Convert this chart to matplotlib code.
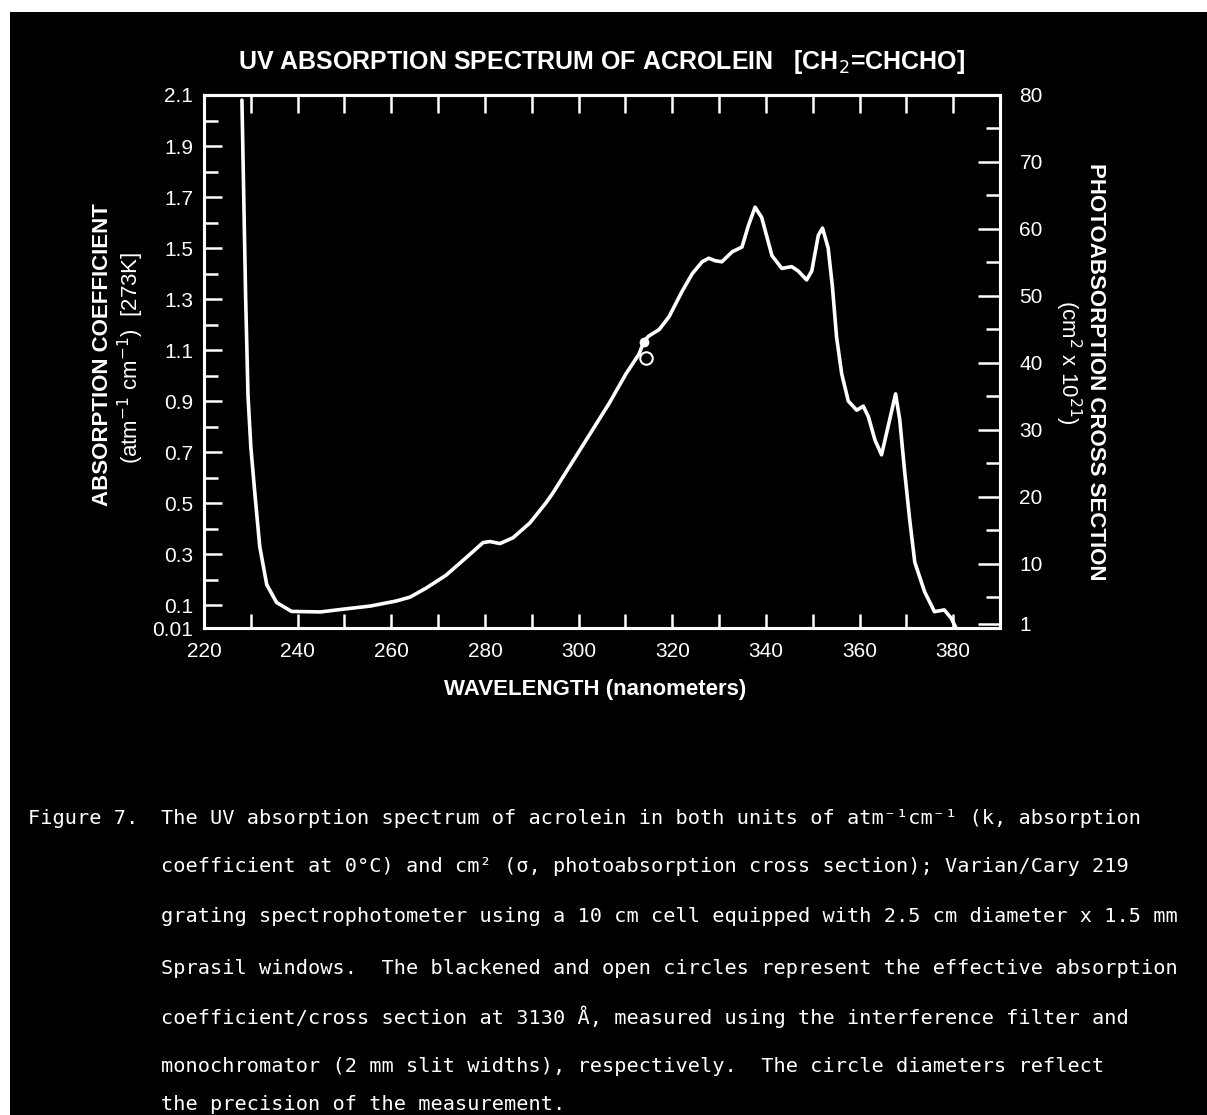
import matplotlib
matplotlib.use("Agg")
import matplotlib.pyplot as plt
from matplotlib.patches import Rectangle
from matplotlib.ticker import FixedLocator, MultipleLocator

# curve: wavelength (nm) vs absorption coefficient k (atm-1 cm-1, 273K)
wavelength_nm = [228.1, 228.5, 228.9, 229.4, 230.0, 230.9, 231.9, 233.4, 235.5, 238.7,
                 244.9, 249.8, 255.5, 261.1, 264.0, 267.4, 271.7, 276.0, 279.6, 281.1,
                 283.2, 286.0, 289.6, 293.0, 294.5, 298.3, 302.3, 306.5, 310.1, 312.9,
                 314.0, 315.0, 317.2, 319.3, 322.1, 324.3, 326.4, 327.8, 329.2, 330.6,
                 332.8, 334.9, 336.3, 337.7, 339.1, 341.3, 343.4, 345.5, 346.9, 348.7,
                 349.8, 351.2, 352.1, 353.3, 354.2, 355.1, 356.2, 357.6, 359.4, 360.8,
                 361.9, 363.3, 364.7, 366.1, 367.7, 368.6, 369.6, 370.7, 371.8, 373.9,
                 376.0, 378.1, 379.6, 380.6]
absorption_k = [2.08, 1.69, 1.30, 0.92, 0.72, 0.53, 0.33, 0.18, 0.11, 0.075,
                0.073, 0.084, 0.096, 0.116, 0.131, 0.166, 0.217, 0.286, 0.345, 0.349,
                0.341, 0.364, 0.422, 0.50, 0.539, 0.65, 0.767, 0.89, 1.006, 1.084,
                1.136, 1.155, 1.18, 1.23, 1.33, 1.40, 1.446, 1.46, 1.45, 1.446,
                1.485, 1.504, 1.59, 1.66, 1.62, 1.47, 1.42, 1.427, 1.41, 1.375,
                1.41, 1.55, 1.578, 1.50, 1.35, 1.15, 1.006, 0.90, 0.864, 0.88,
                0.838, 0.747, 0.689, 0.80, 0.928, 0.825, 0.63, 0.437, 0.268, 0.152,
                0.074, 0.081, 0.048, 0.01]

# single-wavelength measurements at 313 nm
filled_pt = (313.9, 1.13)
open_pt = (314.3, 1.07)

left_ticks = [0.01, 0.1, 0.3, 0.5, 0.7, 0.9, 1.1, 1.3, 1.5, 1.7, 1.9, 2.1]
left_labels = ["0.01", "0.1", "0.3", "0.5", "0.7", "0.9", "1.1", "1.3", "1.5", "1.7", "1.9", "2.1"]
left_minor = [0.2, 0.4, 0.6, 0.8, 1.0, 1.2, 1.4, 1.6, 1.8, 2.0]
right_ticks = [1, 10, 20, 30, 40, 50, 60, 70, 80]
right_minor = [5, 15, 25, 35, 45, 55, 65, 75]
x_labels = [220, 240, 260, 280, 300, 320, 340, 360, 380]

caption_head = "Figure 7."
caption_lines = [
    "The UV absorption spectrum of acrolein in both units of atm\u207b\u00b9cm\u207b\u00b9 (k, absorption",
    "coefficient at 0\u00b0C) and cm\u00b2 (\u03c3, photoabsorption cross section); Varian/Cary 219",
    "grating spectrophotometer using a 10 cm cell equipped with 2.5 cm diameter x 1.5 mm",
    "Sprasil windows.  The blackened and open circles represent the effective absorption",
    "coefficient/cross section at 3130 \u00c5, measured using the interference filter and",
    "monochromator (2 mm slit widths), respectively.  The circle diameters reflect",
    "the precision of the measurement.",
]

W, H = 1207, 1115
fig = plt.figure(figsize=(W / 100, H / 100), dpi=100)
fig.patch.set_facecolor("white")
fig.add_artist(Rectangle((10 / W, 0), 1 - 10 / W, 1 - 12 / H, transform=fig.transFigure,
                         facecolor="black", edgecolor="none", zorder=-10))

lab_font = ["Liberation Sans", "DejaVu Sans"]
mono_font = ["DejaVu Sans Mono"]
fg = "white"

ax = fig.add_axes([204 / W, 1 - 628 / H, (1000 - 204) / W, (628 - 95) / H])
ax.set_facecolor("none")
ax.plot(wavelength_nm, absorption_k, color=fg, lw=2.6, solid_joinstyle="round", solid_capstyle="round")
ax.plot(*filled_pt, "o", ms=6, color=fg, mec=fg)
ax.plot(*open_pt, "o", ms=9, mfc="none", mec=fg, mew=1.5)

ax.set_xlim(220, 390)
ax.set_ylim(0.01, 2.1)
for s in ax.spines.values():
    s.set_color(fg)
    s.set_linewidth(2.2)

ax.xaxis.set_major_locator(FixedLocator(x_labels))
ax.xaxis.set_minor_locator(MultipleLocator(10))
ax.set_xticklabels([str(v) for v in x_labels])
ax.yaxis.set_major_locator(FixedLocator(left_ticks))
ax.set_yticklabels(left_labels)
ax.yaxis.set_minor_locator(FixedLocator(left_minor))
ax.tick_params(axis="both", which="both", direction="in", color=fg, labelcolor=fg, width=1.8)
ax.tick_params(axis="x", which="both", length=10, pad=10, labelsize=15)
ax.tick_params(axis="y", which="major", length=13, pad=8, labelsize=15)
ax.tick_params(axis="y", which="minor", length=10)
for t in ax.get_xticklabels() + ax.get_yticklabels():
    t.set_family(lab_font)

top = ax.secondary_xaxis("top")
top.xaxis.set_major_locator(MultipleLocator(10))
top.tick_params(direction="in", length=13, width=1.8, color=fg, labeltop=False)
top.spines["top"].set_color(fg)
top.spines["top"].set_linewidth(2.2)

factor = 80 / 2.1
ax2 = ax.twinx()
ax2.set_ylim(0.01 * factor, 2.1 * factor)
ax2.yaxis.set_major_locator(FixedLocator(right_ticks))
ax2.yaxis.set_minor_locator(FixedLocator(right_minor))
ax2.tick_params(axis="y", which="major", direction="in", length=16, width=1.8, pad=14,
                color=fg, labelcolor=fg, labelsize=15)
ax2.tick_params(axis="y", which="minor", direction="in", length=10, width=1.8, color=fg)
for s in ax2.spines.values():
    s.set_color(fg)
    s.set_linewidth(2.2)
for t in ax2.get_yticklabels():
    t.set_family(lab_font)

fig.text(602 / W, 1 - 62 / H, "UV ABSORPTION SPECTRUM OF ACROLEIN   [CH$_2$=CHCHO]",
         color=fg, fontsize=18, fontweight="bold", family=lab_font, ha="center", va="center")
fig.text(595 / W, 1 - 690 / H, "WAVELENGTH (nanometers)", color=fg, fontsize=16,
         fontweight="bold", family=lab_font, ha="center", va="center")
fig.text(103 / W, 1 - 355 / H, "ABSORPTION COEFFICIENT", color=fg, fontsize=16,
         fontweight="bold", family=lab_font, rotation=90, ha="center", va="center")
fig.text(131 / W, 1 - 358 / H, "(atm$^{-1}$ cm$^{-1}$)  [273K]", color=fg, fontsize=16,
         family=lab_font, rotation=90, ha="center", va="center")
fig.text(1095 / W, 1 - 372 / H, "PHOTOABSORPTION CROSS SECTION", color=fg, fontsize=16,
         fontweight="bold", family=lab_font, rotation=270, ha="center", va="center")
fig.text(1068 / W, 1 - 362 / H, "(cm$^2$ x 10$^{21}$)", color=fg, fontsize=16,
         family=lab_font, rotation=270, ha="center", va="center")

caption_y = [819, 866, 917, 968, 1017, 1066, 1104]
fig.text(28 / W, 1 - caption_y[0] / H, caption_head, color=fg, fontsize=14.6,
         family=mono_font, ha="left", va="center")
for yy, line in zip(caption_y, caption_lines):
    fig.text(161 / W, 1 - yy / H, line, color=fg, fontsize=14.6, family=mono_font,
             ha="left", va="center")

fig.savefig("out.png", dpi=100, facecolor=fig.get_facecolor())
